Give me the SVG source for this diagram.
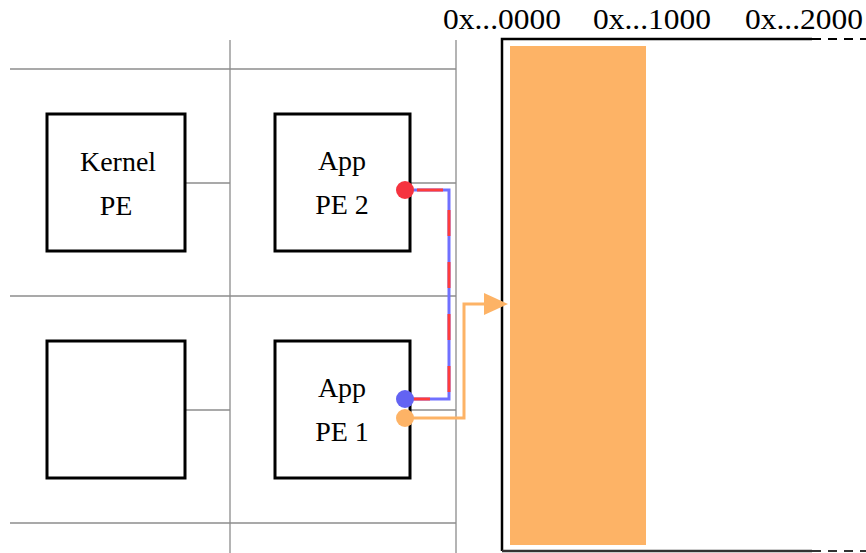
<svg xmlns="http://www.w3.org/2000/svg" width="866" height="553" viewBox="0 0 866 553">
<style>
.grid{stroke:#8c8c8c;stroke-width:1.3;fill:none}
.box{fill:#fff;stroke:#000;stroke-width:3}
.t{font-family:"Liberation Serif",serif;font-size:28px;fill:#000;text-anchor:middle}
.addr{font-family:"Liberation Serif",serif;font-size:29px;fill:#000;text-anchor:middle}
</style>
<rect width="866" height="553" fill="#fff"/>
<g id="grid">
<line class="grid" x1="10" y1="69" x2="456" y2="69"/>
<line class="grid" x1="10" y1="296" x2="456" y2="296"/>
<line class="grid" x1="10" y1="523" x2="456" y2="523"/>
<line class="grid" x1="230" y1="40" x2="230" y2="553"/>
<line class="grid" x1="456" y1="40" x2="456" y2="553"/>
<line class="grid" x1="185" y1="183" x2="230" y2="183"/>
<line class="grid" x1="185" y1="410" x2="230" y2="410"/>
<line class="grid" x1="410" y1="183" x2="456" y2="183"/>
<line class="grid" x1="410" y1="410" x2="456" y2="410"/>
</g>
<g id="memory">
<rect x="510" y="46" width="136" height="499" fill="#FDB366"/>
<path d="M502,551 L502,39 L812,39" fill="none" stroke="#000" stroke-width="2.5"/>
<line x1="812" y1="39" x2="866" y2="39" stroke="#000" stroke-width="2" stroke-dasharray="9,7"/>
<line x1="502" y1="551" x2="812" y2="551" stroke="#333" stroke-width="2.5"/>
<line x1="812" y1="551" x2="866" y2="551" stroke="#333" stroke-width="2" stroke-dasharray="9,7"/>
<text class="addr" x="502" y="29" textLength="118" lengthAdjust="spacingAndGlyphs">0x...0000</text>
<text class="addr" x="652" y="29" textLength="118" lengthAdjust="spacingAndGlyphs">0x...1000</text>
<text class="addr" x="804" y="29" textLength="118" lengthAdjust="spacingAndGlyphs">0x...2000</text>
</g>
<g id="kernel-pe">
<rect class="box" x="47" y="114" width="138" height="137"/>
<text class="t" x="118" y="171">Kernel</text>
<text class="t" x="116" y="215">PE</text>
</g>
<g id="empty-pe">
<rect class="box" x="47" y="341" width="138" height="137"/>
</g>
<g id="app-pe-2">
<rect class="box" x="275" y="114" width="135" height="137"/>
<text class="t" x="342" y="170">App</text>
<text class="t" x="342" y="214">PE 2</text>
</g>
<g id="app-pe-1">
<rect class="box" x="275" y="341" width="135" height="137"/>
<text class="t" x="342" y="397">App</text>
<text class="t" x="342" y="441">PE 1</text>
</g>
<g id="connectors">
<path d="M405,190 L449,190 L449,399 L405,399" fill="none" stroke="#7070FF" stroke-width="3"/>
<path d="M405,190 L449,190 L449,399 L405,399" fill="none" stroke="#FF3B3B" stroke-width="3" stroke-dasharray="26,26" stroke-dashoffset="-12"/>
<path d="M405,418 L464,418 L464,304 L485,304" fill="none" stroke="#FDB366" stroke-width="3"/>
<path d="M484,293 L508,304 L484,315 z" fill="#FDB366"/>
<circle cx="405" cy="190" r="9" fill="#F5333F"/>
<circle cx="405" cy="399" r="9" fill="#6363F2"/>
<circle cx="405" cy="418" r="9" fill="#FDB366"/>
</g>
</svg>
